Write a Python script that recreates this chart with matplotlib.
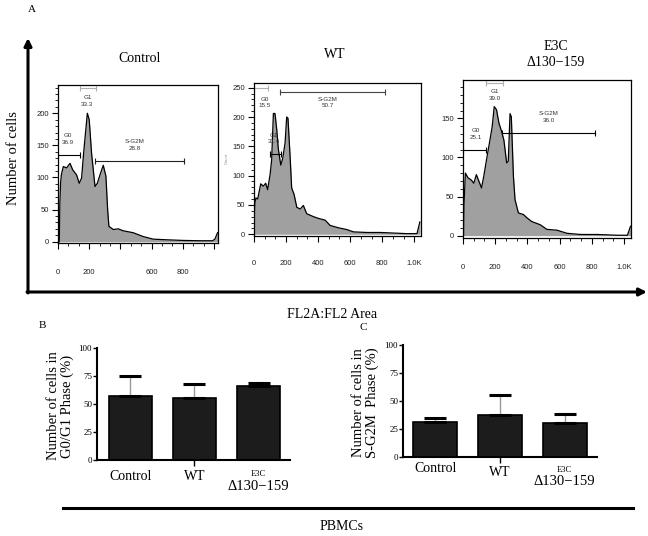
import numpy as np
import matplotlib.pyplot as plt
from matplotlib.ticker import MultipleLocator

plt.rcParams['font.family'] = ['Liberation Serif', 'DejaVu Serif']

W, H = 648, 536

# --- flow histograms (FL2-A vs count) ---
ctrl_x = [8, 12, 16, 22, 34, 55, 77, 94, 119, 136, 151, 166, 188, 200, 215, 237, 252, 273, 290,
          307, 318, 326, 354, 386, 418, 482, 546, 610, 695, 802, 908, 990, 1005, 1022]
ctrl_y = [0, 60, 90, 105, 117, 115, 122, 112, 104, 91, 99, 143, 200, 190, 138, 86, 91, 107, 119,
          102, 50, 24, 19, 20, 17, 14, 8, 4, 3, 2, 1.5, 1.5, 4, 14]

wt_x = [2, 6, 12, 23, 42, 58, 73, 85, 100, 110, 121, 131, 142, 152, 167, 179, 194, 204, 212,
        225, 235, 250, 267, 288, 308, 329, 371, 402, 444, 475, 527, 579, 621, 704, 788, 871, 954,
        1017, 1035]
wt_y = [35, 55, 62, 60, 86, 82, 87, 76, 101, 126, 206, 206, 178, 145, 118, 129, 156, 200, 198,
        134, 79, 68, 46, 43, 49, 35, 30, 27, 24, 15, 11, 8, 4, 3, 3, 2, 1, 1, 21]

e3c_x = [3, 6, 15, 31, 52, 67, 83, 100, 115, 129, 146, 167, 181, 194, 208, 223, 240, 254, 271,
         281, 292, 300, 313, 323, 344, 375, 396, 427, 479, 521, 583, 646, 729, 833, 958, 1021, 1040]
e3c_y = [0, 40, 80, 74, 71, 67, 78, 69, 61, 76, 97, 122, 139, 165, 161, 144, 133, 122, 93,
         95, 156, 152, 76, 46, 29, 27, 23, 18, 14, 8, 7, 3, 1.5, 1.5, 0.5, 0.5, 12]

# gates: (v_start, v_end, height, shade)   labels: (text, v, count)
ctrl_gates = [(2, 141, 135, 'k'), (141, 241, 240, '#b0b0b0'), (237, 806, 126, '#222222')]
ctrl_labels = [('G0\n36.9', 66, 160), ('G1\n33.3', 188, 219), ('S-G2M\n28.8', 492, 151)]
wt_gates = [(2, 90, 249, '#b0b0b0'), (162, 815, 242, '#444444'), (100, 167, 137, 'k')]
wt_labels = [('G0\n15.5', 69, 225), ('S-G2M\n50.7', 458, 225), ('G1\n31.4', 121, 163)]
e3c_gates = [(0, 142, 110, 'k'), (142, 250, 195, '#b0b0b0'), (240, 817, 131, 'k')]
e3c_labels = [('G0\n25.1', 77, 130), ('G1\n39.0', 198, 180), ('S-G2M\n36.0', 531, 152)]

# --- bar charts ---
groups = ['Control', 'WT', 'E3C']
g0g1_mean = [57, 55.5, 66]
g0g1_err = [18, 12.5, 2.5]
sg2m_mean = [31.5, 37.5, 30.5]
sg2m_err = [3, 18, 8]


def rect(l, t, r, b):
    return [l / W, 1 - b / H, (r - l) / W, (b - t) / H]


fig = plt.figure(figsize=(6.48, 5.36), dpi=100)

# overlay in pixel coordinates for arrows / free labels
ov = fig.add_axes([0, 0, 1, 1], zorder=-1)
ov.set_xlim(0, W)
ov.set_ylim(H, 0)
ov.axis('off')
ov.annotate('', xy=(28, 38), xytext=(28, 293),
            arrowprops=dict(arrowstyle='-|>', lw=2.2, color='k', mutation_scale=11, shrinkA=0, shrinkB=0))
ov.annotate('', xy=(647, 292), xytext=(27, 292),
            arrowprops=dict(arrowstyle='-|>', lw=2.2, color='k', mutation_scale=11, shrinkA=0, shrinkB=0))
ov.plot([63, 633], [508, 508], color='k', lw=2.2)
ov.text(32, 9, 'A', fontsize=8, ha='center', va='center')
ov.text(42, 325, 'B', fontsize=8, ha='center', va='center')
ov.text(363, 327, 'C', fontsize=8, ha='center', va='center')
ov.text(14, 158, 'Number of cells', fontsize=10.5, rotation=90, ha='center', va='center')
ov.text(332, 315, 'FL2A:FL2 Area', fontsize=10, ha='center', va='center')
ov.text(342, 527, 'PBMCs', fontsize=10, ha='center', va='center')
ov.text(140, 58, 'Control', fontsize=10, ha='center', va='center')
ov.text(335, 55, 'WT', fontsize=10, ha='center', va='center')
ov.text(556, 47, 'E3C', fontsize=10, ha='center', va='center')
ov.text(556, 62, 'Δ130−159', fontsize=10, ha='center', va='center')
ov.text(227, 158, 'Count', fontsize=3, rotation=90, ha='center', va='center',
        color='#888888', family='Liberation Sans')

hist_specs = [
    (rect(58, 85, 218, 243), ctrl_x, ctrl_y, (0, 1025), (-2, 244), [0, 50, 100, 150, 200],
     ['0', '200', '', '600', '800', ''], ctrl_gates, ctrl_labels, 15),
    (rect(254, 83, 421, 236), wt_x, wt_y, (0, 1042), (-3, 258), [0, 50, 100, 150, 200, 250],
     ['0', '200', '400', '600', '800', '1.0K'], wt_gates, wt_labels, 13),
    (rect(463, 80, 631, 238), e3c_x, e3c_y, (0, 1043), (-3, 199), [0, 50, 100, 150],
     ['0', '200', '400', '600', '800', '1.0K'], e3c_gates, e3c_labels, 15),
]

for pos, hx, hy, xl, yl, yt, xlab, gates, labels, xpad in hist_specs:
    ax = fig.add_axes(pos)
    ax.fill_between(hx, hy, 0, color='#a0a0a0', lw=0)
    ax.plot(hx, hy, color='k', lw=0.9)
    for v1, v2, c, col in gates:
        ax.plot([v1, v2], [c, c], color=col, lw=0.8, marker='|', ms=5, mew=0.8)
    for txt, v, c in labels:
        ax.text(v, c, txt, fontsize=4.5, ha='center', va='center', color='#333333',
                family='Liberation Sans', linespacing=1.4)
    ax.set_xlim(*xl)
    ax.set_ylim(*yl)
    ax.set_xticks([0, 200, 400, 600, 800, 1000])
    ax.set_xticklabels(xlab)
    ax.set_yticks(yt)
    ax.xaxis.set_minor_locator(MultipleLocator(200 / 3))
    ax.yaxis.set_minor_locator(MultipleLocator(10))
    for lab in ax.get_xticklabels() + ax.get_yticklabels():
        lab.set_family('Liberation Sans')
        lab.set_color('#222222')
    ax.tick_params(axis='y', which='major', length=4, width=0.8, labelsize=5.5, pad=2.5)
    ax.tick_params(axis='x', which='major', length=4, width=0.8, labelsize=5.5, pad=xpad)
    ax.tick_params(which='minor', length=2, width=0.6)
    for sp in ax.spines.values():
        sp.set_linewidth(0.9)

bar_specs = [
    (rect(97, 348, 290, 460), g0g1_mean, g0g1_err, 'Number of cells in\nG0/G1 Phase (%)', 60.5,
     (-0.52, 2.49), [-0.15, -0.15, -0.125, -0.241]),
    (rect(403, 345, 597, 457), sg2m_mean, sg2m_err, 'Number of cells in\nS-G2M  Phase (%)', 365.5,
     (-0.5, 2.5), [-0.107, -0.134, -0.116, -0.223]),
]

for pos, means, errs, ylab, ylab_x, xl, lab_y in bar_specs:
    ax = fig.add_axes(pos)
    xs = np.arange(len(groups))
    ax.bar(xs, means, width=0.68, color='#1c1c1c', edgecolor='k', lw=1.2, zorder=2)
    _, caps, bars = ax.errorbar(xs, means, yerr=[np.zeros(len(errs)), errs], fmt='none',
                                ecolor='#999999', elinewidth=1.0, capsize=7.9, capthick=2.2, zorder=3)
    for cap in caps:
        cap.set_color('k')
        cap.set_markeredgecolor('k')
        cap.set_markerfacecolor('k')
    ax.set_xlim(*xl)
    ax.set_ylim(0, 100)
    ax.set_yticks([0, 25, 50, 75, 100])
    ax.tick_params(axis='y', length=3, width=1, labelsize=6.5, pad=0.5)
    ax.set_xticks([1])
    ax.set_xticklabels([''])
    ax.tick_params(axis='x', length=4, width=1)
    for s in ['top', 'right']:
        ax.spines[s].set_visible(False)
    ax.spines['left'].set_linewidth(1.5)
    ax.spines['bottom'].set_linewidth(1.5)
    tr = ax.get_xaxis_transform()
    ax.text(0, lab_y[0], groups[0], transform=tr, fontsize=10, ha='center', va='center')
    ax.text(1, lab_y[1], groups[1], transform=tr, fontsize=10, ha='center', va='center')
    ax.text(2, lab_y[2], groups[2], transform=tr, fontsize=6, ha='center', va='center')
    ax.text(2, lab_y[3], 'Δ130−159', transform=tr, fontsize=10.5, ha='center', va='center')
    y_mid = (1 - pos[1] - pos[3] / 2) * H
    ov.text(ylab_x, y_mid + 2, ylab, fontsize=10.5, rotation=90, ha='center', va='center',
            linespacing=1.0)

fig.savefig('out.png', dpi=100)
